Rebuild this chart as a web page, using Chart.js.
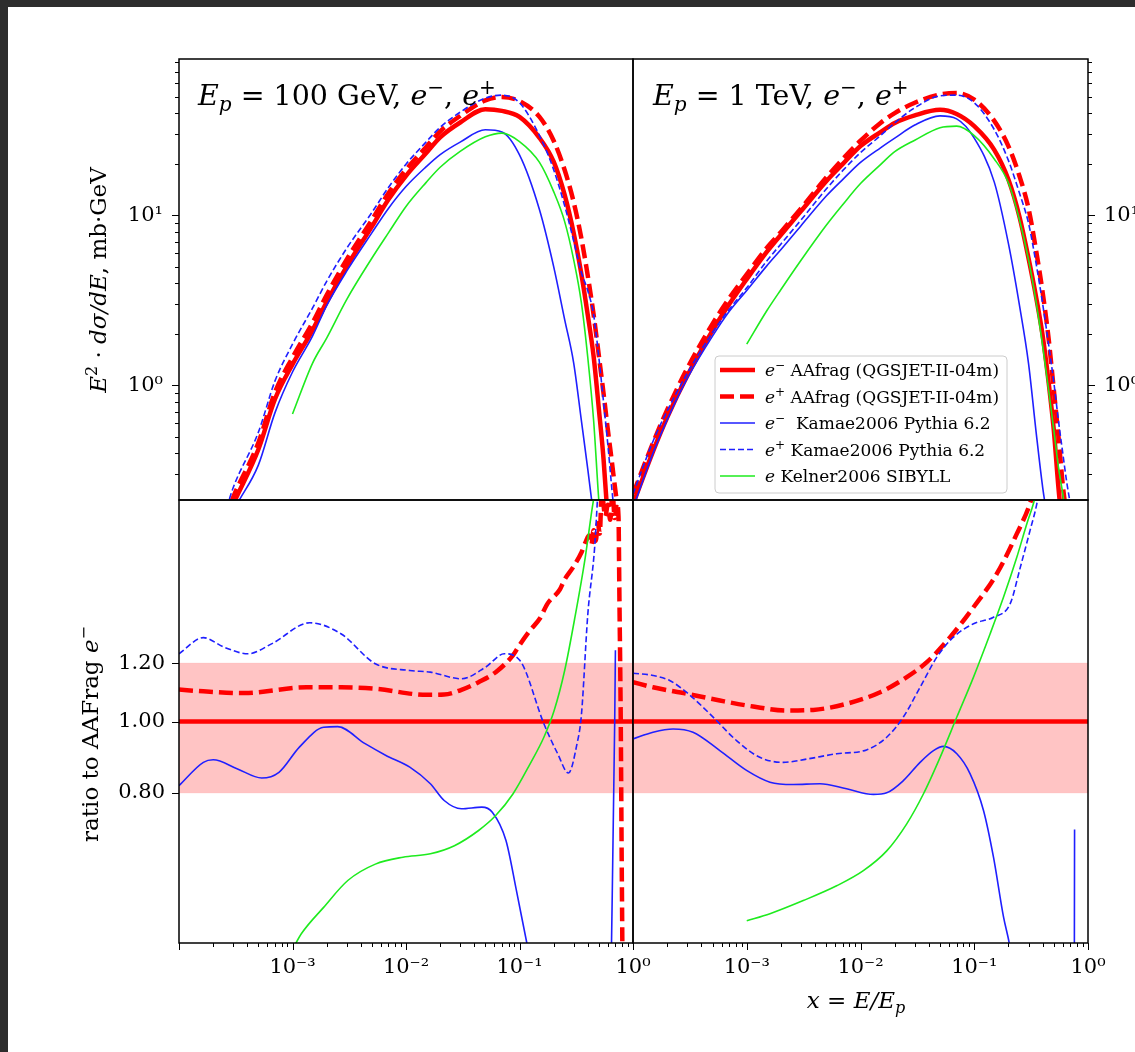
<!DOCTYPE html>
<html lang="en">
<head>
<meta charset="UTF-8">
<title>AAfrag e- / e+ spectra and ratios</title>
<script src="https://cdn.jsdelivr.net/npm/chart.js"></script>
<style>
  html, body { margin: 0; padding: 0; overflow: hidden; }
  body { width: 1135px; height: 1052px; position: relative; background: #2d2d2d; }
  .sheet { position: absolute; left: 8px; top: 7px; right: 0; bottom: 0; background: #fff; }
  canvas { position: absolute; left: 0; top: 0; }
</style>
</head>
<body>
<div class="sheet"></div>
<canvas id="specLow" width="1135" height="1052"></canvas>
<canvas id="specHigh" width="1200" height="1052"></canvas>
<canvas id="ratioLow" width="1135" height="1052"></canvas>
<canvas id="ratioHigh" width="1135" height="1052"></canvas>
<script>
// ---- spectra, E_p = 100 GeV (E^2 dsigma/dE, mb GeV) ----
const xGrid100 = [2.5e-4, 3e-4, 5e-4, 7e-4, 1e-3, 1.5e-3, 2e-3, 3e-3, 5e-3, 7e-3, 0.01, 0.015, 0.02, 0.03, 0.05, 0.07,
                  0.1, 0.15, 0.2, 0.25, 0.3, 0.35, 0.4, 0.45, 0.5, 0.55, 0.6, 0.65, 0.7, 0.75];
const aaMinus100 = [0.15, 0.20, 0.42, 0.83, 1.33, 2.11, 3.09, 5.0, 8.6, 12.4, 17.1, 23.2, 28.8, 35.2, 42.1, 41.2,
                    38.0, 28.6, 20.7, 13.2, 7.9, 4.56, 2.58, 1.48, 0.73, 0.37, 0.16, null, null, null];
const aaPlus100 = [0.16, 0.22, 0.46, 0.91, 1.46, 2.33, 3.4, 5.5, 9.4, 13.5, 18.6, 25.2, 31.2, 38.5, 47.5, 49.8,
                   47, 38, 27.5, 18.5, 12, 7.4, 4.4, 2.6, 1.5, 0.9, 0.55, 0.36, 0.24, 0.17];
const kamaeMinus100 = [0.13, 0.18, 0.34, 0.69, 1.2, 1.95, 2.95, 4.7, 7.9, 11.0, 14.8, 19.3, 22.8, 27, 31.9, 31,
                       22.7, 10.8, 5.0, 2.44, 1.36, 0.63, 0.32, 0.17, null, null, null, null, null, null];
const kamaePlus100 = [0.17, 0.25, 0.53, 1.06, 1.75, 2.85, 4.1, 6.4, 10.4, 14.6, 20, 27, 33, 40.5, 49, 51,
                      46, 29.5, 18.6, 11.4, 7.1, 4.65, 3.6, 2.6, 1.46, 0.8, 0.45, 0.25, 0.15, null];
const kelner100 = [null, null, null, null, 0.68, 1.35, 1.9, 3.2, 5.6, 7.9, 11.3, 15.6, 19.2, 23.8, 29, 30.5,
                   27.2, 20.5, 13.8, 9.2, 5.5, 3.1, 1.45, 0.62, 0.21, 0.1, null, null, null, null];

// ---- spectra, E_p = 1 TeV ----
const xGrid1000 = [1e-4, 1.5e-4, 2e-4, 3e-4, 5e-4, 7e-4, 1e-3, 1.5e-3, 2e-3, 3e-3, 5e-3, 7e-3, 0.01, 0.015, 0.02, 0.03,
                   0.05, 0.07, 0.1, 0.15, 0.2, 0.25, 0.3, 0.35, 0.4, 0.45, 0.5, 0.55, 0.6, 0.65, 0.7, 0.75];
const aaMinus1000 = [0.2, 0.41, 0.65, 1.14, 2.1, 3.0, 4.22, 6.1, 7.7, 10.6, 15.9, 20.1, 25.6, 30.9, 35.0, 38.8,
                     41.8, 39.5, 33.5, 24.3, 16.2, 9.8, 5.6, 3.3, 1.95, 1.05, 0.55, 0.25, 0.14, null, null, null];
const aaPlus1000 = [0.23, 0.46, 0.72, 1.26, 2.3, 3.25, 4.5, 6.45, 8.0, 11.0, 16.7, 21.5, 27.5, 35, 40, 46,
                    51.5, 52.5, 48, 36, 25.5, 17, 11, 6.2, 3.5, 1.9, 0.95, 0.5, 0.26, 0.17, null, null];
const kamaeMinus1000 = [0.19, 0.4, 0.63, 1.1, 1.95, 2.72, 3.62, 5.05, 6.3, 8.7, 13.0, 16.3, 20.5, 25, 28.5, 34,
                        38.5, 37, 28.5, 15.7, 6.8, 2.95, 1.35, 0.53, 0.25, 0.15, null, null, null, null, null, null];
const kamaePlus1000 = [0.23, 0.47, 0.71, 1.18, 2.05, 2.8, 3.75, 5.4, 6.8, 9.4, 14.3, 18.4, 23.4, 29.5, 35, 43,
                       50.5, 51, 46, 32, 21, 13.5, 9, 5.2, 3.0, 1.75, 1.05, 0.62, 0.4, 0.27, 0.2, 0.15];
const kelner1000 = [null, null, null, null, null, null, 1.75, 2.75, 3.67, 5.45, 8.75, 11.6, 15.4, 19.9, 23.7, 27.7,
                    32.8, 33.5, 29.5, 21.5, 15.5, 9.4, 5.5, 3.1, 1.7, 0.95, 0.55, 0.33, 0.23, 0.15, null, null];

// ---- ratios to AAfrag e-, E_p = 100 GeV ----
const ratioAaPlus100X = [1e-4, 1.64e-4, 3.77e-4, 1.33e-3, 2.67e-3, 5.37e-3, 0.0153, 0.0217, 0.0308, 0.0436, 0.0617, 0.0875,
                         0.1, 0.124, 0.151, 0.176, 0.226, 0.25, 0.296, 0.353, 0.386, 0.41, 0.43, 0.45, 0.47, 0.49,
                         0.51, 0.53, 0.57, 0.6, 0.63, 0.66, 0.69, 0.72, 0.745, 0.76, 0.78, 0.795, 0.81];
const ratioAaPlus100 = [1.105, 1.099, 1.093, 1.113, 1.113, 1.108, 1.087, 1.088, 1.104, 1.131, 1.167, 1.23,
                        1.27, 1.33, 1.38, 1.445, 1.51, 1.56, 1.62, 1.70, 1.76, 1.79, 1.74, 1.82, 1.76, 1.86,
                        1.80, 2.05, 1.90, 1.97, 1.88, 2.05, 1.89, 1.98, 1.9, 1.45, 1.0, 0.65, 0.45];
const ratioKamaePlus100X = [1e-4, 1.64e-4, 2.49e-4, 4.05e-4, 6.6e-4, 1.42e-3, 2.67e-3, 5.37e-3, 0.0108, 0.0164, 0.0308,
                            0.0501, 0.0734, 0.101, 0.164, 0.217, 0.27, 0.32, 0.351, 0.4, 0.46, 0.49];
const ratioKamaePlus100 = [1.236, 1.30, 1.262, 1.236, 1.276, 1.362, 1.316, 1.198, 1.173, 1.167, 1.143,
                           1.185, 1.236, 1.21, 0.993, 0.904, 0.851, 0.93, 1.02, 1.40, 1.73, 2.05];
const ratioKamaeMinus100X = [1e-4, 1.64e-4, 2.0e-4, 3.28e-4, 5.35e-4, 7.6e-4, 1.15e-3, 1.88e-3, 2.5e-3, 4.36e-3, 6.6e-3,
                             0.0108, 0.0164, 0.0217, 0.0308, 0.0466, 0.0576, 0.076, 0.094, 0.116, 0.13, 0.3,
                             0.64, 0.69, 0.70];
const ratioKamaeMinus100 = [0.818, 0.880, 0.887, 0.862, 0.838, 0.853, 0.923, 0.982, 0.984, 0.933, 0.90,
                            0.867, 0.823, 0.781, 0.761, 0.765, 0.753, 0.689, 0.589, 0.50, 0.46, null,
                            0.45, 1.0, 1.25];
const ratioKelner100X = [1e-3, 1.2e-3, 1.88e-3, 3.07e-3, 5.37e-3, 9.4e-3, 0.0164, 0.0267, 0.0436, 0.0617, 0.0875,
                         0.124, 0.164, 0.202, 0.25, 0.308, 0.38, 0.435, 0.46];
const ratioKelner100 = [0.49, 0.515, 0.559, 0.608, 0.640, 0.654, 0.661, 0.678, 0.711, 0.745, 0.797,
                        0.876, 0.952, 1.035, 1.173, 1.386, 1.673, 1.94, 2.05];

// ---- ratios to AAfrag e-, E_p = 1 TeV ----
const ratioAaPlus1000X = [1e-4, 1.5e-4, 2.95e-4, 5.8e-4, 1.14e-3, 2.24e-3, 3.84e-3, 7.55e-3, 0.0149, 0.0255, 0.0383,
                          0.0614, 0.0985, 0.158, 0.237, 0.31, 0.33];
const ratioAaPlus1000 = [1.131, 1.113, 1.091, 1.068, 1.048, 1.035, 1.037, 1.057, 1.096, 1.149, 1.204,
                         1.302, 1.43, 1.588, 1.80, 1.98, 2.05];
const ratioKamaePlus1000X = [1e-4, 1.5e-4, 2.1e-4, 2.95e-4, 5.06e-4, 8.13e-4, 1.3e-3, 2.09e-3, 3.36e-3, 6.17e-3, 0.0113,
                             0.017, 0.0238, 0.0334, 0.0469, 0.0656, 0.0985, 0.1476, 0.207, 0.254, 0.31, 0.356, 0.37];
const ratioKamaePlus1000 = [1.163, 1.155, 1.137, 1.096, 1.014, 0.942, 0.894, 0.880, 0.889, 0.904, 0.915,
                            0.952, 1.014, 1.113, 1.223, 1.302, 1.358, 1.386, 1.446, 1.62, 1.82, 1.98, 2.05];
const ratioKamaeMinus1000X = [1e-4, 1.5e-4, 2.25e-4, 3.37e-4, 5.8e-4, 9.96e-4, 1.6e-3, 2.56e-3, 4.4e-3, 7.55e-3, 0.013,
                              0.017, 0.0238, 0.0334, 0.0438, 0.0536, 0.0703, 0.092, 0.1206, 0.1476, 0.181, 0.204,
                              0.22, 0.5, 0.758, 0.762];
const ratioKamaeMinus1000 = [0.947, 0.967, 0.977, 0.967, 0.913, 0.858, 0.827, 0.821, 0.823, 0.81, 0.796,
                             0.80, 0.831, 0.880, 0.913, 0.925, 0.904, 0.849, 0.757, 0.654, 0.542, 0.498,
                             0.46, null, 0.45, 0.713];
const ratioKelner1000X = [1e-3, 1.6e-3, 3.14e-3, 6.17e-3, 0.0106, 0.017, 0.0255, 0.0357, 0.0501, 0.0703, 0.0985,
                          0.138, 0.181, 0.237, 0.29, 0.332, 0.35];
const ratioKelner1000 = [0.536, 0.548, 0.571, 0.598, 0.627, 0.667, 0.726, 0.797, 0.894, 1.014, 1.149,
                         1.316, 1.476, 1.673, 1.857, 1.98, 2.05];

// +-20% band and the unit line of the ratio panels
const bandX = [1e-4, 1];
const bandLow = [0.8, 0.8];
const bandHigh = [1.2, 1.2];
const unity = [1, 1];

// axis ranges and labelled ticks
const X_RANGE = [1e-4, 1];
const SPEC_RANGE = [0.212, 83.2];
const RATIO_RANGE = [0.5, 2.0];
const ratioTicks = [0.8, 1.0, 1.2];
const ratioTickLabels = ['0.80', '1.00', '1.20'];

// page geometry of the four panels
const FRAME = { left: 179, mid: 633, right: 1088, top: 59, split: 500, bottom: 943 };
const PAGE_W = 1135, PAGE_H = 1052, WIDE_W = 1200;
const Y_AXIS_W = 70, X_AXIS_H = 60;
const FONT = '"DejaVu Serif", serif';

Chart.defaults.font.family = FONT;
Chart.defaults.color = '#000';

const STYLE = {
  aaMinus: { borderColor: '#ff0000', borderWidth: 4.5, borderDash: [], order: 5 },
  aaPlus: { borderColor: '#ff0000', borderWidth: 4.5, borderDash: [14, 6], order: 4 },
  kamaeMinus: { borderColor: '#1f1fff', borderWidth: 1.6, borderDash: [], order: 3 },
  kamaePlus: { borderColor: '#1f1fff', borderWidth: 1.6, borderDash: [6, 3], order: 2 },
  kelner: { borderColor: '#1eeb1e', borderWidth: 1.6, borderDash: [], order: 1 }
};

function points(xs, ys) {
  return xs.map((x, i) => ({ x: x, y: ys[i] }));
}

function line(xs, ys, style) {
  return Object.assign({
    data: points(xs, ys),
    pointRadius: 0,
    fill: false,
    clip: 0,
    spanGaps: false,
    cubicInterpolationMode: 'monotone',
    capBezierPoints: false,
    borderCapStyle: 'butt',
    borderJoinStyle: 'round'
  }, style);
}

function ratioBackground() {
  return [
    { data: points(bandX, bandHigh), pointRadius: 0, borderWidth: 1, borderColor: 'rgba(255,0,0,0.12)',
      backgroundColor: 'rgba(255,0,0,0.23)', fill: '+1', order: 20, clip: 0 },
    { data: points(bandX, bandLow), pointRadius: 0, borderWidth: 1, borderColor: 'rgba(255,0,0,0.12)',
      fill: false, order: 21, clip: 0 },
    line(bandX, unity, Object.assign({}, STYLE.aaMinus, { order: 6 }))
  ];
}

const SUP = { '-': '\u207b', '0': '\u2070', '1': '\u00b9', '2': '\u00b2', '3': '\u00b3' };
function decadeLabel(v) {
  const e = String(Math.round(Math.log10(v)));
  return '10' + e.split('').map(c => SUP[c]).join('');
}

function logTicks(min, max) {
  const out = [];
  for (let e = Math.floor(Math.log10(min)); e <= Math.ceil(Math.log10(max)); e++) {
    for (let m = 1; m <= 9; m++) {
      const v = m * Math.pow(10, e);
      if (v >= min * 0.999 && v <= max * 1.001) out.push({ value: v, major: m === 1 });
    }
  }
  return out;
}

// rich text: italic runs, sub- and superscripts
function runFont(r, size) {
  const s = (r.sup || r.sub) ? Math.round(size * 0.7) : size;
  return (r.it ? 'italic ' : '') + s + 'px ' + FONT;
}
function drawRuns(ctx, runs, x, y, size, align) {
  let total = 0;
  for (const r of runs) { ctx.font = runFont(r, size); total += ctx.measureText(r.t).width; }
  let cx = align === 'center' ? x - total / 2 : x;
  for (const r of runs) {
    ctx.font = runFont(r, size);
    const dy = r.sup ? -size * 0.4 : (r.sub ? size * 0.22 : 0);
    ctx.fillText(r.t, cx, y + dy);
    cx += ctx.measureText(r.t).width;
  }
}

function textPlugin(items) {
  return {
    id: 'richText',
    afterDraw(chart) {
      const ctx = chart.ctx;
      for (const it of items) {
        ctx.save();
        ctx.fillStyle = '#000';
        ctx.textBaseline = 'alphabetic';
        ctx.translate(it.x, it.y);
        if (it.rotate) ctx.rotate(-Math.PI / 2);
        drawRuns(ctx, it.runs, 0, 0, it.size, it.align || 'left');
        ctx.restore();
      }
    }
  };
}

// axes frame plus outward tick marks (long on decades, short in between)
function framePlugin(sides) {
  return {
    id: 'frameTicks',
    afterDraw(chart) {
      const { ctx, chartArea: a, scales } = chart;
      ctx.save();
      ctx.strokeStyle = '#000';
      ctx.lineWidth = 1;
      ctx.beginPath();
      for (const side of sides) {
        const scale = side === 'bottom' ? scales.x : scales.y;
        for (const t of scale.ticks) {
          const len = t.major ? 7 : 4;
          const p = Math.round(scale.getPixelForValue(t.value)) + 0.5;
          if (side === 'bottom') { ctx.moveTo(p, a.bottom); ctx.lineTo(p, a.bottom + len); }
          else if (side === 'left') { ctx.moveTo(a.left, p); ctx.lineTo(a.left - len, p); }
          else { ctx.moveTo(a.right, p); ctx.lineTo(a.right + len, p); }
        }
      }
      ctx.stroke();
      ctx.lineWidth = 1.5;
      ctx.strokeRect(a.left, a.top, a.right - a.left, a.bottom - a.top);
      ctx.restore();
    }
  };
}

function legendPlugin(entries, box) {
  return {
    id: 'modelLegend',
    afterDraw(chart) {
      const ctx = chart.ctx;
      ctx.save();
      ctx.beginPath();
      ctx.roundRect(box.left, box.top, box.width, box.height, 4);
      ctx.fillStyle = 'rgba(255,255,255,0.8)';
      ctx.fill();
      ctx.strokeStyle = '#cccccc';
      ctx.lineWidth = 1;
      ctx.stroke();
      entries.forEach((e, i) => {
        const ds = chart.data.datasets[e.dataset];
        const y = box.firstRow + i * box.rowStep;
        ctx.strokeStyle = ds.borderColor;
        ctx.lineWidth = ds.borderWidth;
        ctx.setLineDash(ds.borderDash || []);
        ctx.beginPath();
        ctx.moveTo(box.left + 5, y);
        ctx.lineTo(box.left + 40, y);
        ctx.stroke();
        ctx.setLineDash([]);
        ctx.fillStyle = '#000';
        drawRuns(ctx, e.runs, box.left + 50, y + 6, box.fontSize, 'left');
      });
      ctx.restore();
    }
  };
}

function xScale(showLabels) {
  const s = {
    type: 'logarithmic', min: X_RANGE[0], max: X_RANGE[1], bounds: 'data', position: 'bottom',
    display: showLabels,
    afterBuildTicks: sc => { sc.ticks = logTicks(X_RANGE[0], X_RANGE[1]); },
    grid: { display: false, drawTicks: false },
    border: { display: false },
    ticks: {
      autoSkip: false, maxRotation: 0, minRotation: 0, padding: 12, color: '#000',
      font: { family: FONT, size: 21 },
      callback: (v, i, ticks) => (ticks[i].major && v > 2e-4) ? decadeLabel(v) : ''
    }
  };
  if (showLabels) s.afterFit = sc => { sc.height = X_AXIS_H; };
  return s;
}

function specScale(position) {
  return {
    type: 'logarithmic', min: SPEC_RANGE[0], max: SPEC_RANGE[1], bounds: 'data', position: position,
    afterBuildTicks: sc => { sc.ticks = logTicks(SPEC_RANGE[0], SPEC_RANGE[1]); },
    afterFit: sc => { sc.width = Y_AXIS_W; },
    grid: { display: false, drawTicks: false },
    border: { display: false },
    ticks: {
      autoSkip: false, padding: 16, color: '#000', font: { family: FONT, size: 21 },
      callback: (v, i, ticks) => ticks[i].major ? decadeLabel(v) : ''
    }
  };
}

function ratioScale(showLabels) {
  const s = {
    type: 'logarithmic', min: RATIO_RANGE[0], max: RATIO_RANGE[1], bounds: 'data', position: 'left',
    display: showLabels,
    afterBuildTicks: sc => { sc.ticks = ratioTicks.map(v => ({ value: v, major: true })); },
    grid: { display: false, drawTicks: false },
    border: { display: false },
    ticks: {
      autoSkip: false, padding: 14, color: '#000', font: { family: FONT, size: 21 },
      callback: (v, i) => ratioTickLabels[i]
    }
  };
  if (showLabels) s.afterFit = sc => { sc.width = Y_AXIS_W; };
  return s;
}

function makeChart(id, datasets, scales, padding, plugins) {
  return new Chart(document.getElementById(id), {
    type: 'line',
    data: { datasets: datasets },
    options: {
      responsive: false, animation: false, events: [],
      layout: { autoPadding: false, padding: padding },
      plugins: { legend: { display: false }, tooltip: { enabled: false } },
      scales: scales
    },
    plugins: plugins
  });
}

const eMinus = [{ t: 'e', it: true }, { t: '\u2212', sup: true }];
const ePlus = [{ t: 'e', it: true }, { t: '+', sup: true }];

// top left: E_p = 100 GeV spectra
makeChart('specLow', [
  line(xGrid100, aaMinus100, STYLE.aaMinus),
  line(xGrid100, aaPlus100, STYLE.aaPlus),
  line(xGrid100, kamaeMinus100, STYLE.kamaeMinus),
  line(xGrid100, kamaePlus100, STYLE.kamaePlus),
  line(xGrid100, kelner100, STYLE.kelner)
], { x: xScale(false), y: specScale('left') },
{ left: FRAME.left - Y_AXIS_W, top: FRAME.top, right: PAGE_W - FRAME.mid, bottom: PAGE_H - FRAME.split },
[framePlugin(['left']), textPlugin([
  { x: 198, y: 105, size: 28.5, runs: [{ t: 'E', it: true }, { t: 'p', it: true, sub: true }, { t: ' = 100 GeV, ' }]
      .concat(eMinus, [{ t: ', ' }], ePlus) },
  { x: 106, y: 280, size: 23, rotate: true, align: 'center',
    runs: [{ t: 'E', it: true }, { t: '2', sup: true }, { t: ' \u00b7 ' }, { t: 'd\u03c3/dE', it: true }, { t: ', mb\u00b7GeV' }] }
])]);

// top right: E_p = 1 TeV spectra with the legend
makeChart('specHigh', [
  line(xGrid1000, aaMinus1000, STYLE.aaMinus),
  line(xGrid1000, aaPlus1000, STYLE.aaPlus),
  line(xGrid1000, kamaeMinus1000, STYLE.kamaeMinus),
  line(xGrid1000, kamaePlus1000, STYLE.kamaePlus),
  line(xGrid1000, kelner1000, STYLE.kelner)
], { x: xScale(false), y: specScale('right') },
{ left: FRAME.mid, top: FRAME.top, right: WIDE_W - FRAME.right - Y_AXIS_W, bottom: PAGE_H - FRAME.split },
[framePlugin(['right']), textPlugin([
  { x: 653, y: 105, size: 28.5, runs: [{ t: 'E', it: true }, { t: 'p', it: true, sub: true }, { t: ' = 1 TeV, ' }]
      .concat(eMinus, [{ t: ', ' }], ePlus) }
]), legendPlugin([
  { dataset: 0, runs: eMinus.concat([{ t: ' AAfrag (QGSJET-II-04m)' }]) },
  { dataset: 1, runs: ePlus.concat([{ t: ' AAfrag (QGSJET-II-04m)' }]) },
  { dataset: 2, runs: eMinus.concat([{ t: '  Kamae2006 Pythia 6.2' }]) },
  { dataset: 3, runs: ePlus.concat([{ t: ' Kamae2006 Pythia 6.2' }]) },
  { dataset: 4, runs: [{ t: 'e', it: true }, { t: ' Kelner2006 SIBYLL' }] }
], { left: 715, top: 356, width: 292, height: 137, firstRow: 370, rowStep: 26.5, fontSize: 17 })]);

// bottom left: ratios at 100 GeV
makeChart('ratioLow', ratioBackground().concat([
  line(ratioAaPlus100X, ratioAaPlus100, STYLE.aaPlus),
  line(ratioKamaeMinus100X, ratioKamaeMinus100, STYLE.kamaeMinus),
  line(ratioKamaePlus100X, ratioKamaePlus100, STYLE.kamaePlus),
  line(ratioKelner100X, ratioKelner100, STYLE.kelner)
]), { x: xScale(true), y: ratioScale(true) },
{ left: FRAME.left - Y_AXIS_W, top: FRAME.split, right: PAGE_W - FRAME.mid, bottom: PAGE_H - FRAME.bottom - X_AXIS_H },
[framePlugin(['left', 'bottom']), textPlugin([
  { x: 98, y: 734, size: 23, rotate: true, align: 'center',
    runs: [{ t: 'ratio to AAFrag ' }].concat(eMinus) }
])]);

// bottom right: ratios at 1 TeV
makeChart('ratioHigh', ratioBackground().concat([
  line(ratioAaPlus1000X, ratioAaPlus1000, STYLE.aaPlus),
  line(ratioKamaeMinus1000X, ratioKamaeMinus1000, STYLE.kamaeMinus),
  line(ratioKamaePlus1000X, ratioKamaePlus1000, STYLE.kamaePlus),
  line(ratioKelner1000X, ratioKelner1000, STYLE.kelner)
]), { x: xScale(true), y: ratioScale(false) },
{ left: FRAME.mid, top: FRAME.split, right: PAGE_W - FRAME.right, bottom: PAGE_H - FRAME.bottom - X_AXIS_H },
[framePlugin(['bottom']), textPlugin([
  { x: 856, y: 1008, size: 23, align: 'center',
    runs: [{ t: 'x', it: true }, { t: ' = ' }, { t: 'E/E', it: true }, { t: 'p', it: true, sub: true }] }
])]);
</script>
</body>
</html>
